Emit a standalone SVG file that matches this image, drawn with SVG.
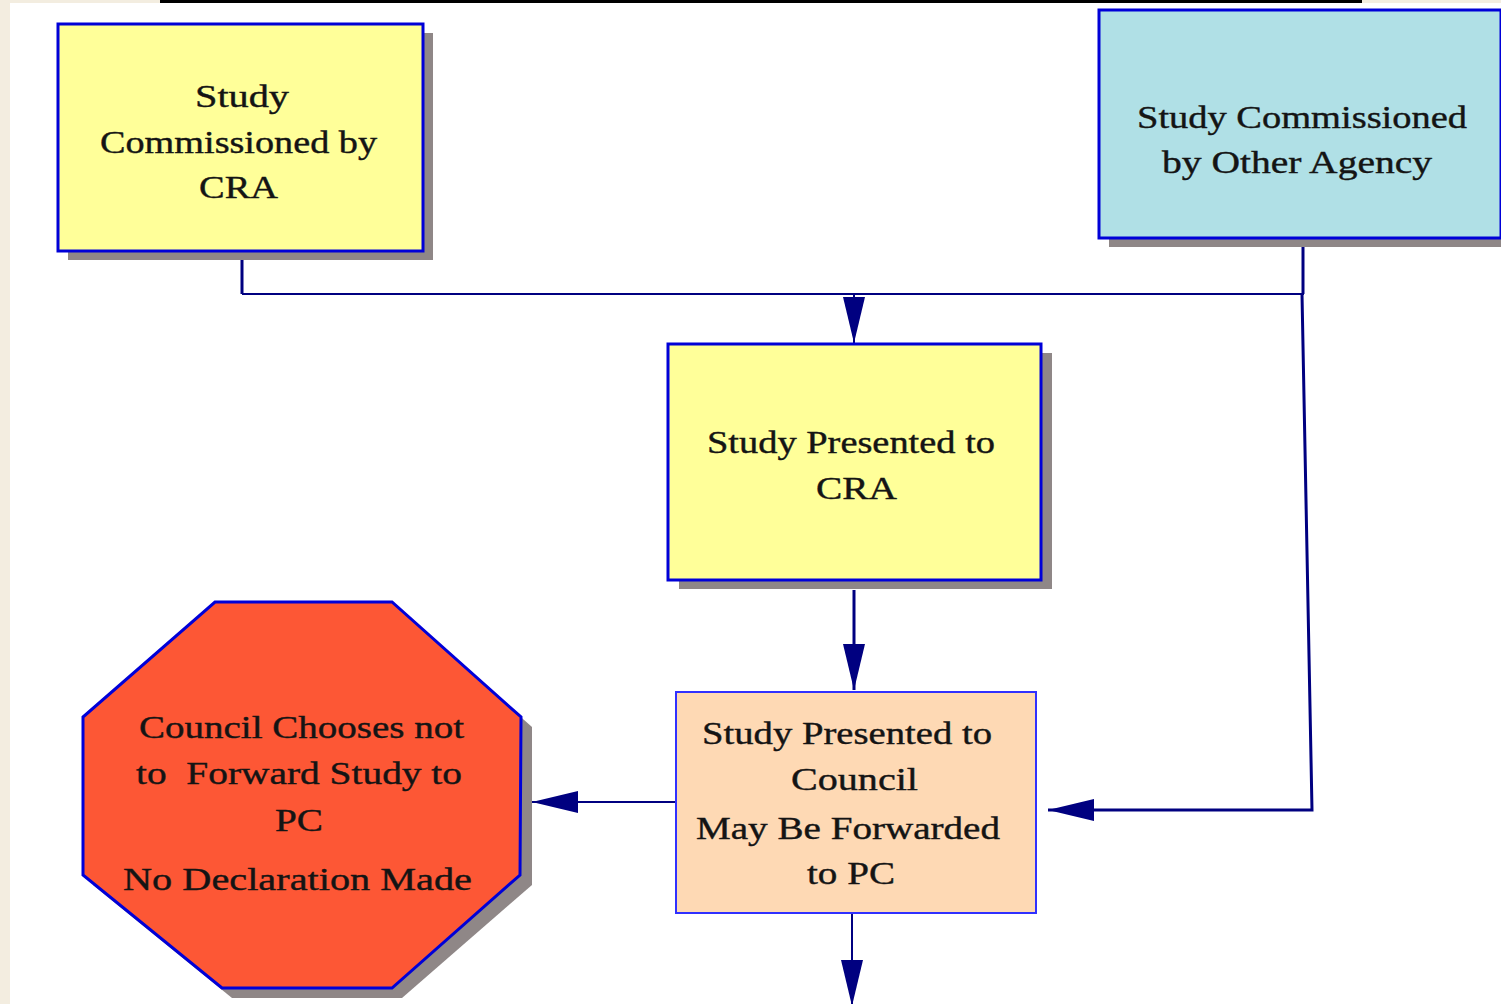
<svg xmlns="http://www.w3.org/2000/svg" width="1501" height="1004" viewBox="0 0 1501 1004">
<style>
.t{font-family:"Liberation Serif","Times New Roman",serif;font-size:32px;fill:#141414;stroke:#141414;stroke-width:0.4;text-anchor:middle}
.sh{fill:#8f8787}
.box{stroke:#0000d8;stroke-width:3}
.ln{fill:none;stroke:#000080;stroke-linejoin:miter}
</style>
<defs>
<marker id="ah" markerUnits="userSpaceOnUse" viewBox="0 0 46 22" refX="46" refY="11" markerWidth="46" markerHeight="22" orient="auto">
<path d="M0,0 L46,11 L0,22 Z" fill="#000080"/>
</marker>
</defs>
<rect x="0" y="0" width="1501" height="1004" fill="#ffffff"/>
<rect x="0" y="0" width="10" height="1004" fill="#f3ede0"/>
<rect x="0" y="0" width="160" height="3" fill="#f3ede0"/>
<rect x="1362" y="0" width="139" height="3" fill="#f3ede0"/>
<rect x="160" y="0" width="1202" height="3" fill="#000000"/>

<g id="connectors">
<path class="ln" stroke-width="3" d="M242,252 V294"/>
<path class="ln" stroke-width="2" d="M242,294 H1304"/>
<path class="ln" stroke-width="3" d="M1303,239 V294"/>
<path class="ln" stroke-width="3" d="M1302,294 L1312,810 H1094"/>
<path class="ln" stroke-width="3" d="M1094,810 H1048" marker-end="url(#ah)"/>
<path class="ln" stroke-width="2" d="M854,294 V343" marker-end="url(#ah)"/>
<path class="ln" stroke-width="3" d="M854,590 V690" marker-end="url(#ah)"/>
<path class="ln" stroke-width="2" d="M676,802 H532" marker-end="url(#ah)"/>
<path class="ln" stroke-width="2" d="M852,913 V1006" marker-end="url(#ah)"/>
</g>

<g id="node-cra-commissioned">
<rect class="sh" x="68" y="33" width="365" height="227"/>
<rect class="box" x="58" y="24" width="365" height="227" fill="#ffff99"/>
<text class="t" x="242" y="107" textLength="94" lengthAdjust="spacingAndGlyphs">Study</text>
<text class="t" x="238.5" y="153" textLength="277" lengthAdjust="spacingAndGlyphs">Commissioned by</text>
<text class="t" x="238.5" y="198" textLength="79" lengthAdjust="spacingAndGlyphs">CRA</text>
</g>

<g id="node-other-agency">
<rect class="sh" x="1109" y="19" width="402" height="228"/>
<rect class="box" x="1099" y="10" width="402" height="228" fill="#b0e0e6"/>
<text class="t" x="1302" y="128" textLength="330" lengthAdjust="spacingAndGlyphs">Study Commissioned</text>
<text class="t" x="1297" y="173" textLength="270" lengthAdjust="spacingAndGlyphs">by Other Agency</text>
</g>

<g id="node-presented-cra">
<rect class="sh" x="679" y="353" width="373" height="236"/>
<rect class="box" x="668" y="344" width="373" height="236" fill="#ffff99"/>
<text class="t" x="851" y="453" textLength="288" lengthAdjust="spacingAndGlyphs">Study Presented to</text>
<text class="t" x="856.5" y="499" textLength="81" lengthAdjust="spacingAndGlyphs">CRA</text>
</g>

<g id="node-presented-council">
<rect x="676" y="692" width="360" height="221" fill="#fed9b4" stroke="#3030ff" stroke-width="2"/>
<text class="t" x="847" y="744" textLength="290" lengthAdjust="spacingAndGlyphs">Study Presented to</text>
<text class="t" x="854.5" y="790" textLength="127" lengthAdjust="spacingAndGlyphs">Council</text>
<text class="t" x="848" y="839" textLength="304" lengthAdjust="spacingAndGlyphs">May Be Forwarded</text>
<text class="t" x="851" y="884" textLength="88" lengthAdjust="spacingAndGlyphs">to PC</text>
</g>

<g id="node-no-declaration">
<polygon class="sh" points="225,612 402,612 532,727 532,885 402,998 232,998 93,885 93,727"/>
<polygon points="215,602 392,602 521,717 520,875 392,988 222,988 83,875 83,717" fill="#fd5735" stroke="#0000d8" stroke-width="3"/>
<text class="t" x="301.5" y="738" textLength="325" lengthAdjust="spacingAndGlyphs">Council Chooses not</text>
<text class="t" x="299" y="784" textLength="326" lengthAdjust="spacingAndGlyphs" xml:space="preserve">to  Forward Study to</text>
<text class="t" x="299" y="831" textLength="48" lengthAdjust="spacingAndGlyphs">PC</text>
<text class="t" x="297.5" y="890" textLength="349" lengthAdjust="spacingAndGlyphs">No Declaration Made</text>
</g>
</svg>
